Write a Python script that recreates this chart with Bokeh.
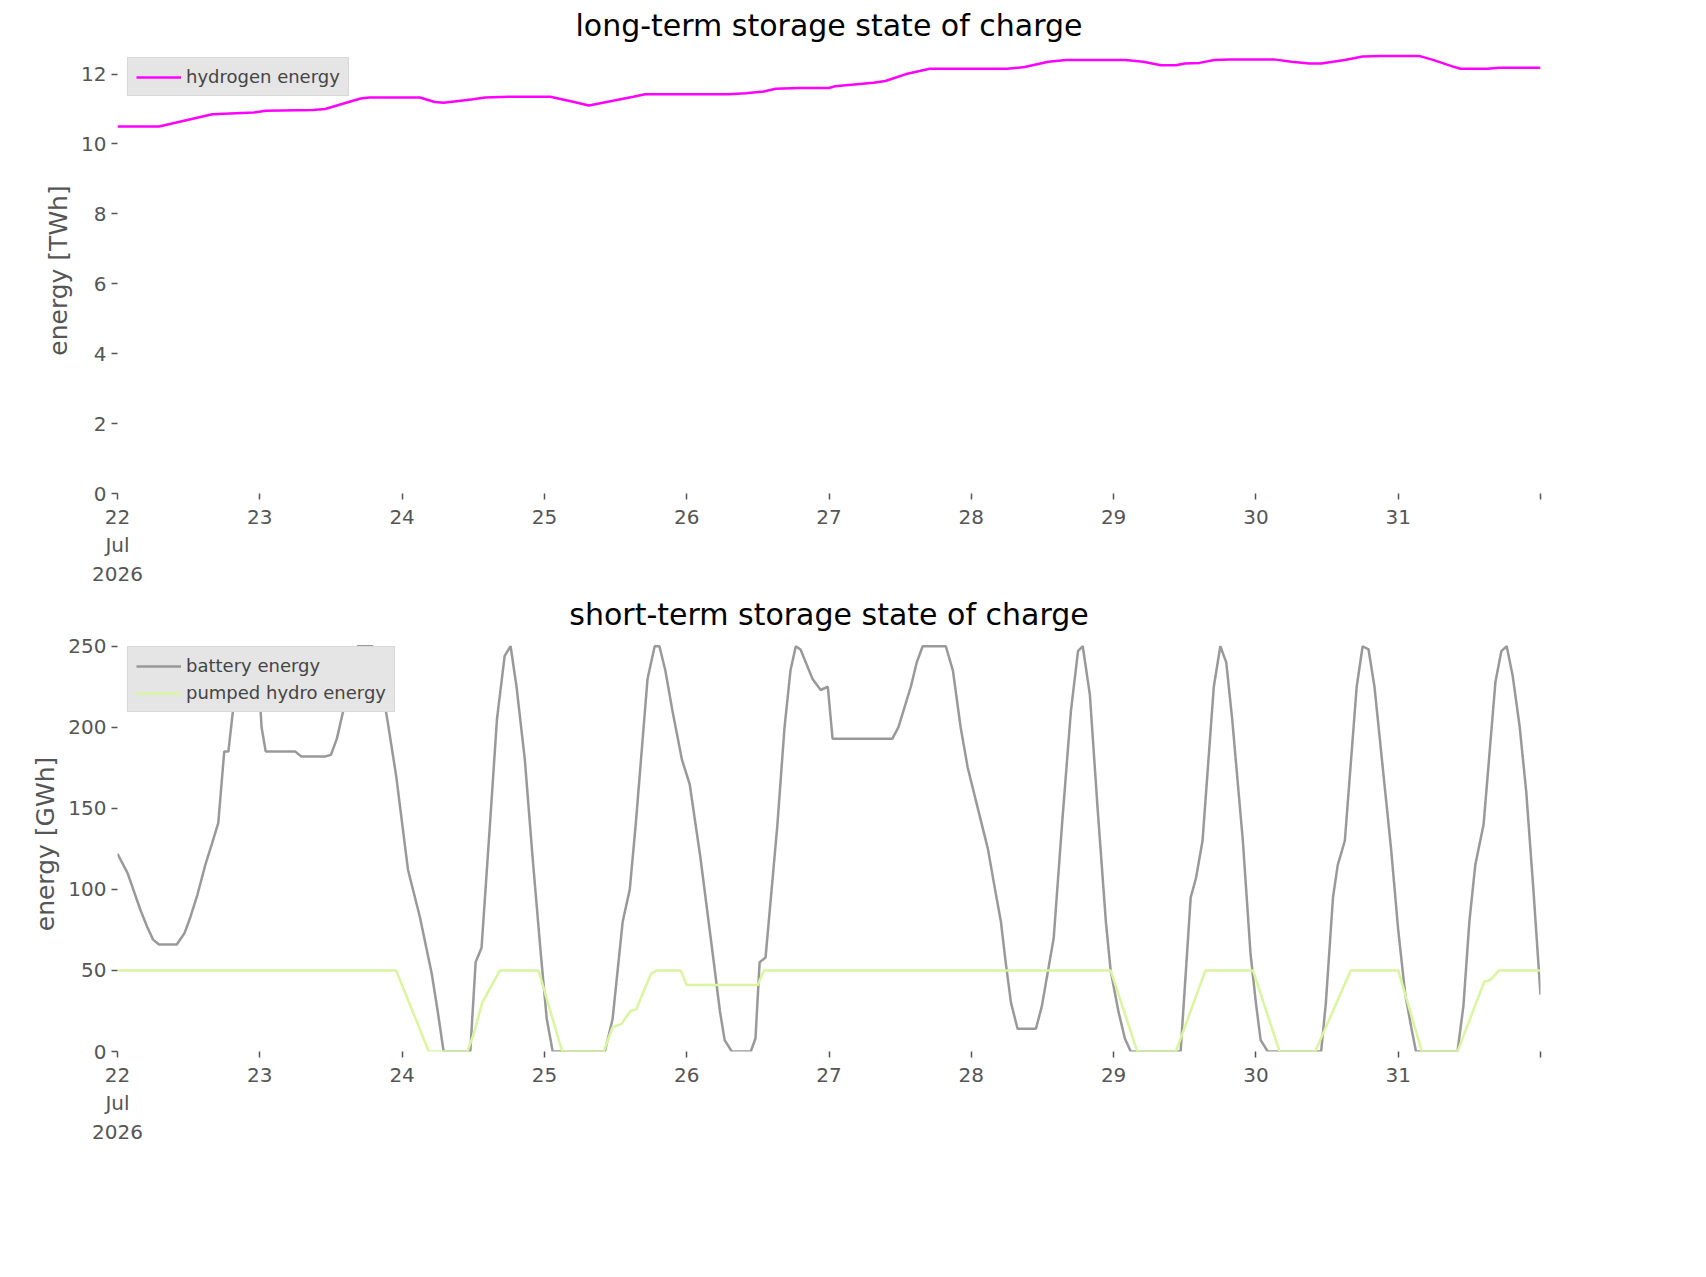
import pandas as pd
from bokeh.plotting import figure
from bokeh.layouts import column
from bokeh.models import FixedTicker, Range1d
from bokeh.embed import file_html
from bokeh.resources import INLINE

start = pd.Timestamp("2026-07-22")
h2_hours = [0,7,16,20,23,25,33,35,41,42.5,51,53.5,55,60,62,66,73,77,79.5,81,87,89,103,106,109,111,115,120,121,127.5,129.5,133,137,150,153,157,160,170,173,176,178.5,180,182.5,185,187.5,195,198,201,203,207,210,213,219.5,222,225.5,226.5,231,233,240]
h2_vals = [10.5,10.5,10.85,10.88,10.9,10.95,10.97,11.0,11.3,11.33,11.33,11.2,11.18,11.28,11.33,11.35,11.35,11.2,11.1,11.15,11.35,11.42,11.42,11.45,11.5,11.58,11.6,11.6,11.65,11.75,11.8,12.0,12.15,12.15,12.2,12.35,12.4,12.4,12.35,12.25,12.25,12.3,12.32,12.4,12.42,12.42,12.35,12.3,12.3,12.4,12.5,12.52,12.52,12.4,12.2,12.15,12.15,12.18,12.18]

bat_hours = [0,1.7,3.9,5,6,7,10,11.3,12.3,13.5,14.8,16,17,18,18.7,19.5,21,22.8,23.5,24.3,25,30,31,35,36,37,38.5,39.5,40.5,43,44,45.5,47,49,51,53,54,55,
             59.5,60.4,61.4,63,64,65.3,66.3,67.3,68.7,70,71.4,72.4,73.4,82.2,83.5,85.2,86.4,87.4,89.4,90.6,91.4,92.4,93.6,95.2,96.5,98.3,100.4,101.6,102.4,103.6,
             106.8,107.6,108.3,109.3,111.3,112.5,113.5,114.4,115.2,117.2,118.6,119.8,120.6,130.7,131.7,133.8,134.8,135.8,139.7,140.9,142.2,143.4,145.1,146.8,148,149,149.8,150.7,151.8,
             154.9,155.9,157.9,159.3,160.8,162,162.8,164,165.3,166.7,167.5,168.8,169.9,170.9,179.3,180.2,181,181.9,183,184.9,186,187,188,189.8,191.1,192,192.8,194,
             203,203.8,205,205.8,207,209,210,211,212,213.4,214.8,216,217.2,218.2,219,226,227,228,229,230.4,232.4,233.4,234.3,235.3,236.5,237.6,238.8,240]
bat_vals = [122,110,87,77,69,66,66,73,83,97,115,129,141,185,185,211,231,240,250,200,185,185,182,182,183,193,217,234,250,250,237,205,170,112,83,48,25,0,
            0,55,64,150,205,244,250,225,180,120,60,20,0,0,20,80,100,140,230,250,250,235,210,180,165,120,60,25,7,0,
            0,8,55,58,140,200,235,250,248,230,223,225,193,193,200,225,240,250,250,235,200,175,150,125,100,80,55,30,14,
            14,28,70,140,210,247,250,220,150,80,50,25,8,0,0,50,95,107,130,225,250,240,205,130,60,30,7,0,
            0,30,95,115,130,225,250,248,225,175,125,75,35,15,0,0,28,80,115,140,228,247,250,232,200,160,100,35]

ph_hours = [0,47,52.5,59,60,61.5,64.5,71,75,82,83.5,85,86.5,87.5,88.5,90,91,95,96,108,109,167.5,172,178.5,183.5,191.5,196,202,208,216,218,220,226,230.5,231.5,233,240]
ph_vals = [50,50,0,0,10,30,50,50,0,0,15,17,25,26,35,48,50,50,41,41,50,50,0,0,50,50,0,0,50,50,25,0,0,43,44,50,50]

def t(hs):
    return [start + pd.Timedelta(hours=h) for h in hs]

day_ticks = [(start + pd.Timedelta(days=d)).value / 1e6 for d in range(11)]
overrides = {day_ticks[0]: "22\nJul\n2026"}
for d in range(1, 10):
    overrides[day_ticks[d]] = str(22 + d)
overrides[day_ticks[10]] = ""

x0 = start
x1 = start + pd.Timedelta(days=10)

def style(p, ylabel, yticks):
    p.background_fill_color = "white"
    p.outline_line_color = None
    p.xgrid.visible = False
    p.ygrid.visible = False
    p.title.text_font_size = "30px"
    p.title.align = "center"
    p.title.text_font_style = "normal"
    p.title.text_color = "black"
    p.title.text_font = "DejaVu Sans"
    p.xaxis.ticker = FixedTicker(ticks=day_ticks)
    p.xaxis.major_label_overrides = overrides
    p.yaxis.ticker = FixedTicker(ticks=yticks)
    for ax in (p.xaxis, p.yaxis):
        ax.axis_line_color = None
        ax.major_tick_line_color = "#555555"
        ax.major_tick_line_width = 1.5
        ax.major_tick_out = 6
        ax.major_tick_in = 0
        ax.minor_tick_line_color = None
        ax.major_label_text_font_size = "20px"
        ax.major_label_text_color = "#555555"
        ax.major_label_text_font = "DejaVu Sans"
    p.yaxis.axis_label = ylabel
    p.yaxis.axis_label_text_font_size = "25px"
    p.yaxis.axis_label_text_font_style = "normal"
    p.yaxis.axis_label_text_color = "#555555"
    p.yaxis.axis_label_text_font = "DejaVu Sans"
    p.legend.location = "top_left"
    p.legend.background_fill_color = "#e5e5e5"
    p.legend.background_fill_alpha = 1
    p.legend.border_line_color = "#cccccc"
    p.legend.label_text_font_size = "18px"
    p.legend.label_text_font = "DejaVu Sans"
    p.legend.glyph_width = 45
    p.legend.spacing = 6
    p.legend.padding = 8
    p.legend.margin = 10

p1 = figure(width=1560, height=589, x_axis_type="datetime", output_backend="svg", toolbar_location=None,
            title="long-term storage state of charge", x_range=Range1d(x0, x1), y_range=Range1d(0, 12.76),
            min_border_left=117, min_border_right=20, min_border_bottom=80, min_border_top=25)
p1.line(t(h2_hours), h2_vals, color="#ff00ff", line_width=2.5, legend_label="hydrogen energy")
style(p1, "energy [TWh]", [0, 2, 4, 6, 8, 10, 12])

p2 = figure(width=1560, height=558, x_axis_type="datetime", output_backend="svg", toolbar_location=None,
            title="short-term storage state of charge", x_range=Range1d(x0, x1), y_range=Range1d(0, 256),
            min_border_left=117, min_border_right=20, min_border_bottom=80, min_border_top=0)
p2.line(t(bat_hours), bat_vals, color="#999999", line_width=2.5, legend_label="battery energy")
p2.line(t(ph_hours), ph_vals, color="#d9f5a0", line_width=2.5, legend_label="pumped hydro energy")
style(p2, "energy [GWh]", [0, 50, 100, 150, 200, 250])

layout = column(p1, p2, spacing=0)
open("out.html", "w").write(file_html(layout, INLINE))
